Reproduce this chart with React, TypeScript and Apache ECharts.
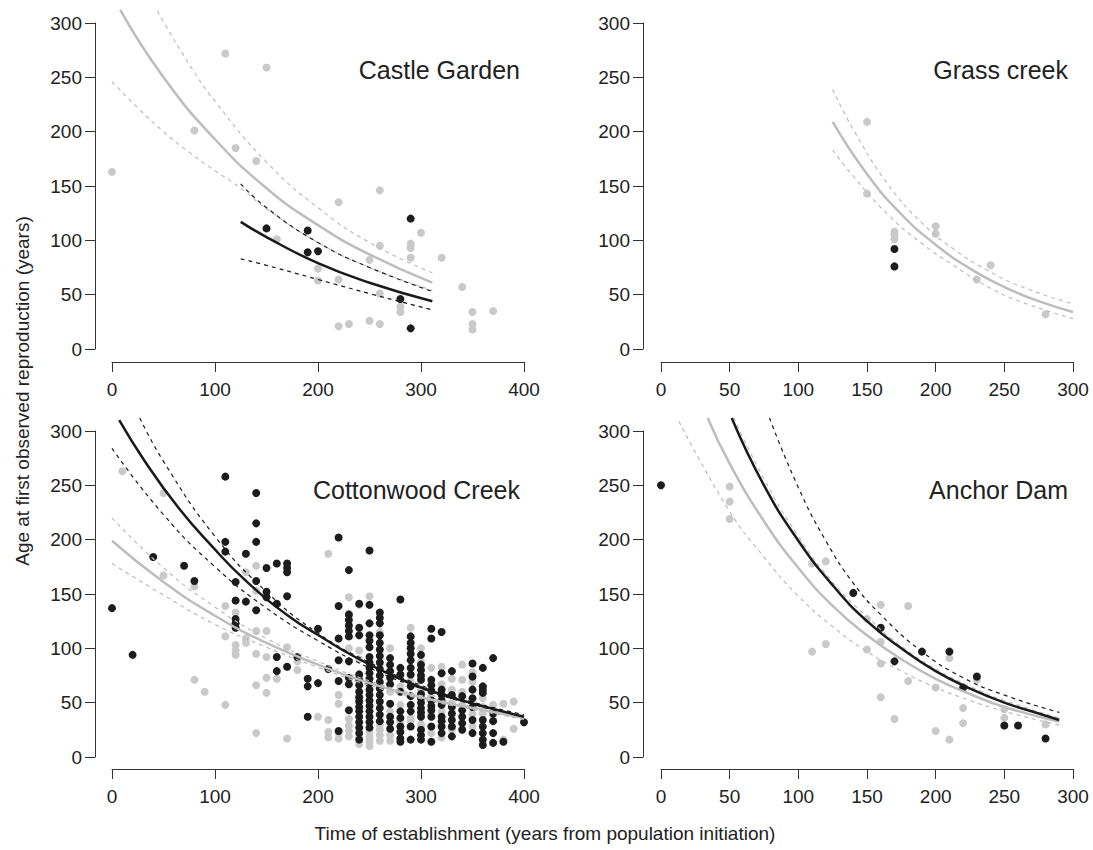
import React, { useEffect, useRef } from "react";
import * as echarts from "echarts";

type P = [number, number];

// ---------- Castle Garden ----------
const cgGray: P[] = [[0,163],[80,201],[110,272],[120,185],[140,173],[150,259],[160,101],[200,74],[200,63],[220,135],[220,64],[220,21],[230,23],[250,82],[250,26],[260,146],[260,95],[260,51],[260,23],[280,39],[280,34],[290,97],[290,93],[290,84],[300,107],[320,84],[340,57],[350,34],[350,23],[350,18],[370,35]];
const cgBlack: P[] = [[150,111],[190,109],[190,89],[200,90],[280,46],[290,120],[290,19]];
const cgGrayFit: P[] = [[8,312],[50,250],[100,193],[150,148],[200,114],[250,87],[311,61]];
const cgGrayUpper: P[] = [[44,311],[50,301],[75,262],[100,228],[150,172],[200,130],[250,98],[311,70]];
const cgGrayLower: P[] = [[0,246],[25,222],[50,200],[75,181],[100,164],[125,148],[150,129],[200,98],[250,75],[311,54]];
const cgBlackFit: P[] = [[125,117],[150,103],[200,79],[250,61],[311,44]];
const cgBlackUpper: P[] = [[125,152],[150,130],[200,98],[250,75],[311,53]];
const cgBlackLower: P[] = [[125,83],[150,77],[200,64],[250,51],[311,36]];

// ---------- Grass creek ----------
const gcGray: P[] = [[150,209],[150,143],[170,108],[170,105],[170,101],[200,113],[200,106],[230,64],[240,77],[280,32]];
const gcBlack: P[] = [[170,92],[170,76]];
const gcGrayFit: P[] = [[125,209],[150,161],[175,124],[200,96],[225,74],[250,57],[275,44],[300,34]];
const gcGrayUpper: P[] = [[125,239],[140,202],[165,152],[190,116],[213,92],[237,73],[261,58],[300,41.5]];
const gcGrayLower: P[] = [[125,183],[140,159],[165,124],[190,97],[213,77],[237,58],[261,44],[300,28]];

// ---------- Cottonwood Creek ----------
const cwGray: P[] = [[10,263],[50,243],[50,167],[80,157],[80,71],[90,60],[110,139],[110,111],[110,48],[120,133],[120,103],[120,98],[120,94],[130,170],[130,109],[130,105],[140,176],[140,153],[140,116],[140,95],[140,66],[140,22],[150,116],[150,92],[150,73],[150,59],[160,72],[170,101],[170,17],[180,88],[180,80],[200,37],[210,187],[210,34],[210,23],[210,18],[220,57],[220,49],[220,22],[220,17],
[230,147],[230,132],[230,100],[230,35],[230,29],[230,24],[230,19],
[240,140],[240,98],[240,90],[240,19],[240,12],
[250,148],[250,23],[250,18],[250,14],[250,10],
[260,115],[260,30],[260,25],[260,20],[260,15],
[270,100],[270,60],[270,42],[270,20],[270,15],
[280,65],[280,48],[280,33],
[290,119],[290,70],[290,36],[290,33],
[300,100],[300,88],[300,62],[300,30],
[310,82],[310,56],[310,40],[310,22],
[320,83],[320,67],[320,42],[320,18],
[330,72],[330,62],[330,50],[330,25],
[340,85],[340,71],[340,60],[340,48],
[350,78],[350,69],[350,40],[350,28],
[360,65],[360,54],[360,46],[360,40],
[370,48],[370,34],[380,49],[380,16],[390,51],[390,26]];
const cwBlack: P[] = [[0,137],[20,94],[40,184],[70,176],[80,162],[110,258],[110,198],[110,189],[120,161],[120,144],[120,127],[120,123],[120,119],[130,187],[130,143],[140,243],[140,215],[140,198],[140,162],[140,135],[150,174],[150,152],[150,147],[160,178],[160,141],[160,92],[160,79],[170,178],[170,174],[170,170],[170,148],[170,83],[180,92],[190,72],[190,65],[190,37],[200,118],[200,68],[210,81],[220,202],[220,139],[220,109],[220,89],[220,70],[220,24],
[230,172],[230,131],[230,126],[230,121],[230,116],[230,111],[230,88],[230,73],[230,67],[230,43],
[240,141],[240,119],[240,112],[240,76],[240,71],[240,66],[240,60],[240,55],[240,51],[240,46],[240,42],[240,37],[240,32],[240,27],[240,22],[240,16],
[250,190],[250,140],[250,123],[250,112],[250,107],[250,101],[250,92],[250,87],[250,82],[250,77],[250,72],[250,67],[250,62],[250,57],[250,52],[250,47],[250,42],[250,37],[250,32],[250,27],
[260,133],[260,128],[260,123],[260,112],[260,105],[260,99],[260,93],[260,87],[260,81],[260,75],[260,69],[260,63],[260,57],[260,51],[260,45],[260,39],[260,33],
[270,91],[270,85],[270,79],[270,73],[270,67],[270,49],[270,37],[270,32],[270,26],
[280,145],[280,82],[280,76],[280,60],[280,42],[280,36],[280,28],[280,23],[280,17],[280,14],
[290,111],[290,105],[290,100],[290,95],[290,89],[290,82],[290,76],[290,65],[290,56],[290,48],[290,42],[290,28],[290,16],
[300,94],[300,85],[300,80],[300,75],[300,71],[300,58],[300,54],[300,50],[300,45],[300,41],[300,37],[300,25],[300,20],[300,16],
[310,118],[310,109],[310,71],[310,66],[310,61],[310,52],[310,47],[310,43],[310,37],[310,28],[310,14],
[320,115],[320,77],[320,62],[320,57],[320,52],[320,48],[320,37],[320,33],[320,28],[320,22],
[330,79],[330,57],[330,46],[330,40],[330,34],[330,28],[330,19],
[340,56],[340,43],[340,37],[340,31],[340,25],
[350,86],[350,74],[350,62],[350,54],[350,46],[350,34],[350,22],
[360,82],[360,65],[360,62],[360,59],[360,34],[360,28],[360,22],[360,16],[360,11],
[370,91],[370,40],[370,33],[370,22],[370,13],[380,14],[400,32]];
const cwGrayFit: P[] = [[0,199],[50,161],[100,130],[150,105],[200,85],[250,68],[300,55],[350,45],[400,36]];
const cwGrayUpper: P[] = [[0,220],[50,174],[100,138],[150,109],[200,88],[250,70],[300,56.5],[350,46.4],[400,37.5]];
const cwGrayLower: P[] = [[0,178],[50,149],[100,122],[150,101],[200,82.5],[250,66],[300,53.6],[350,43.7],[400,34.6]];
const cwBlackFit: P[] = [[7,310],[32,272],[64,230],[97,194],[129,163],[171,130],[204,110],[236,92],[268,77],[300,64],[340,52],[400,37]];
const cwBlackUpper: P[] = [[27,312],[50,272],[100,203],[150,152],[200,114],[250,87],[300,66],[350,50.5],[400,39]];
const cwBlackLower: P[] = [[0,284],[50,223],[100,175],[150,137],[200,107],[250,82],[300,63],[350,48.5],[400,37]];

// ---------- Anchor Dam ----------
const adGray: P[] = [[50,249],[50,235],[50,219],[110,178],[110,97],[120,180],[120,104],[150,127],[150,99],[160,140],[160,106],[160,86],[160,55],[170,35],[180,139],[180,70],[200,64],[200,24],[210,91],[210,16],[220,45],[220,31],[230,71],[250,44],[250,36],[280,30]];
const adBlack: P[] = [[0,250],[140,151],[160,119],[170,88],[190,97],[210,97],[220,64],[230,74],[250,29],[260,29],[280,17]];
const adGrayFit: P[] = [[34,312],[50,270],[75,217],[100,174],[125,139],[150,112],[175,90],[200,72],[225,58],[250,46],[290,32.5]];
const adGrayUpper: P[] = [[53,312],[75,256],[100,203],[125,161],[150,129],[175,102],[200,81],[225,65],[250,52],[290,36]];
const adGrayLower: P[] = [[13,309],[50,226],[75,184],[100,148],[125,120],[150,97],[175,79],[200,64],[225,52],[250,42],[290,29.4]];
const adBlackFit: P[] = [[51.5,312],[75,250],[100,199],[125,158],[150,125],[175,100],[200,79],[225,63],[250,50],[275,40],[290,34]];
const adBlackUpper: P[] = [[79,312],[100,248],[120,199],[140,160],[160,131],[190,97],[220,73],[250,57],[290,41]];

const yTicks = [0, 50, 100, 150, 200, 250, 300];
const titles = ["Castle Garden", "Grass creek", "Cottonwood Creek", "Anchor Dam"];
const xMax = [400, 300, 400, 300];
const xStep = [100, 50, 100, 50];

const FONT = '"Liberation Sans", Arial, Helvetica, sans-serif';
const GRAY_PT = "#c9c9c9";
const BLACK_PT = "#1c1c1c";
const GRAY_LN = "#bdbdbd";
const BLACK_LN = "#1a1a1a";

export default function App() {
  const ref = useRef<HTMLDivElement>(null);
  useEffect(() => {
    document.body.style.margin = "0";
    if (!ref.current) return;
    const chart = echarts.init(ref.current, undefined, { renderer: "svg" });

    const grids = [
      { left: 112, top: 23, width: 412, height: 326 },
      { left: 661, top: 23, width: 412, height: 326 },
      { left: 112, top: 431, width: 412, height: 326 },
      { left: 661, top: 431, width: 412, height: 326 },
    ];
    const xOff = [13, 13, 12, 12];
    const yOff = [17, 18, 17, 18];

    const axisCommon = {
      type: "value" as const,
      splitLine: { show: false },
      axisLine: { show: true, onZero: false, lineStyle: { color: "#333", width: 1 } },
      axisTick: { show: true, inside: false, length: 10, lineStyle: { color: "#333", width: 1 } },
    };
    const xAxes = grids.map((_, i) => ({
      ...axisCommon,
      gridIndex: i,
      min: 0,
      max: xMax[i],
      interval: xStep[i],
      position: "bottom",
      offset: xOff[i],
      axisLabel: { color: "#222", fontSize: 19, fontFamily: FONT, margin: 18 },
    }));
    const yAxes = grids.map((_, i) => ({
      ...axisCommon,
      gridIndex: i,
      min: yTicks[0],
      max: yTicks[yTicks.length - 1],
      interval: yTicks[1] - yTicks[0],
      position: "left",
      offset: yOff[i],
      axisLabel: { color: "#222", fontSize: 19, fontFamily: FONT, margin: 13 },
    }));

    const scatter = (data: P[], color: string, i: number) => ({
      type: "scatter",
      xAxisIndex: i,
      yAxisIndex: i,
      data,
      symbol: "circle",
      symbolSize: 8,
      clip: false,
      silent: true,
      itemStyle: { color, opacity: 1 },
    });
    const line = (data: P[], color: string, width: number, dashed: boolean, i: number) => ({
      type: "line",
      xAxisIndex: i,
      yAxisIndex: i,
      data,
      smooth: 0.5,
      showSymbol: false,
      symbol: "none",
      clip: false,
      silent: true,
      z: dashed ? 3 : 4,
      lineStyle: { color, width, type: dashed ? [4, 4] : "solid" },
    });

    const series: any[] = [
      scatter(cgGray, GRAY_PT, 0),
      scatter(cgBlack, BLACK_PT, 0),
      line(cgGrayUpper, GRAY_LN, 1.2, true, 0),
      line(cgGrayLower, GRAY_LN, 1.2, true, 0),
      line(cgGrayFit, GRAY_LN, 2.5, false, 0),
      line(cgBlackUpper, BLACK_LN, 1.2, true, 0),
      line(cgBlackLower, BLACK_LN, 1.2, true, 0),
      line(cgBlackFit, BLACK_LN, 2.5, false, 0),
      scatter(gcGray, GRAY_PT, 1),
      scatter(gcBlack, BLACK_PT, 1),
      line(gcGrayUpper, GRAY_LN, 1.2, true, 1),
      line(gcGrayLower, GRAY_LN, 1.2, true, 1),
      line(gcGrayFit, GRAY_LN, 2.5, false, 1),
      scatter(cwGray, GRAY_PT, 2),
      scatter(cwBlack, BLACK_PT, 2),
      line(cwGrayUpper, GRAY_LN, 1.2, true, 2),
      line(cwGrayLower, GRAY_LN, 1.2, true, 2),
      line(cwGrayFit, GRAY_LN, 2.5, false, 2),
      line(cwBlackUpper, BLACK_LN, 1.2, true, 2),
      line(cwBlackLower, BLACK_LN, 1.2, true, 2),
      line(cwBlackFit, BLACK_LN, 2.5, false, 2),
      scatter(adGray, GRAY_PT, 3),
      scatter(adBlack, BLACK_PT, 3),
      line(adGrayUpper, GRAY_LN, 1.2, true, 3),
      line(adGrayLower, GRAY_LN, 1.2, true, 3),
      line(adGrayFit, GRAY_LN, 2.5, false, 3),
      line(adBlackUpper, BLACK_LN, 1.2, true, 3),
      line(adBlackFit, BLACK_LN, 2.5, false, 3),
    ];

    const titlePos = [
      [520, 70],
      [1068, 70],
      [520, 490],
      [1068, 490],
    ];
    const graphic: any[] = titles.map((t, i) => ({
      type: "text",
      x: titlePos[i][0],
      y: titlePos[i][1],
      silent: true,
      style: {
        text: t,
        fill: "#222",
        font: `25px ${FONT}`,
        textAlign: "right",
        textVerticalAlign: "middle",
        align: "right",
        verticalAlign: "middle",
      },
    }));
    graphic.push({
      type: "text",
      x: 545,
      y: 833,
      silent: true,
      style: {
        text: "Time of establishment (years from population initiation)",
        fill: "#222",
        font: `19px ${FONT}`,
        textAlign: "center",
        textVerticalAlign: "middle",
        align: "center",
        verticalAlign: "middle",
      },
    });
    graphic.push({
      type: "text",
      x: 22,
      y: 391,
      rotation: Math.PI / 2,
      silent: true,
      style: {
        text: "Age at first observed reproduction (years)",
        fill: "#222",
        font: `19px ${FONT}`,
        textAlign: "center",
        textVerticalAlign: "middle",
        align: "center",
        verticalAlign: "middle",
      },
    });

    chart.setOption({
      animation: false,
      backgroundColor: "#ffffff",
      grid: grids,
      xAxis: xAxes,
      yAxis: yAxes,
      series,
      graphic,
    });
    return () => chart.dispose();
  }, []);
  return <div ref={ref} style={{ width: 1093, height: 850 }} />;
}
